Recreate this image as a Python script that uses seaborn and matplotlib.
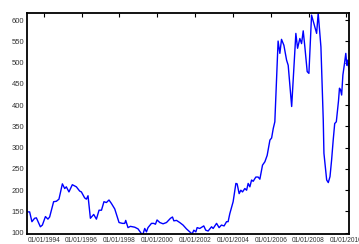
import numpy as np
import pandas as pd
import matplotlib
matplotlib.use("Agg")
import matplotlib.pyplot as plt
import matplotlib.dates as mdates
import seaborn as sns

# price series (irregular sample dates)
dates = [
    "1993-02-12", "1993-04-04", "1993-05-18", "1993-07-09", "1993-08-12", "1993-10-28", "1993-12-06",
    "1994-02-03", "1994-03-23", "1994-04-25", "1994-07-11", "1994-09-02", "1994-10-22", "1994-12-27",
    "1995-02-10", "1995-03-13", "1995-05-03", "1995-07-07", "1995-09-23", "1995-11-26", "1995-12-29",
    "1996-03-01", "1996-04-04", "1996-05-05", "1996-06-20", "1996-08-23", "1996-10-14", "1996-12-04",
    "1997-01-20", "1997-03-09", "1997-04-25", "1997-06-14", "1997-07-30", "1997-10-03", "1997-11-05",
    "1997-12-25", "1998-02-28", "1998-04-14", "1998-05-03", "1998-06-16", "1998-08-02", "1998-10-24",
    "1998-12-27", "1999-03-01", "1999-04-02", "1999-05-05", "1999-06-07", "1999-07-07", "1999-09-12",
    "1999-10-26", "1999-11-28", "1999-12-29", "2000-02-20", "2000-04-23", "2000-06-28", "2000-09-14",
    "2000-10-22", "2000-11-17", "2001-01-08", "2001-03-11", "2001-05-14", "2001-07-19", "2001-09-22",
    "2001-11-05", "2001-12-08", "2002-01-16", "2002-02-10", "2002-04-02", "2002-06-18", "2002-07-26",
    "2002-09-10", "2002-11-15", "2002-12-16", "2003-02-20", "2003-04-10", "2003-05-25", "2003-07-15",
    "2003-09-01", "2003-10-01", "2003-11-03", "2004-01-06", "2004-02-28", "2004-03-23", "2004-05-01",
    "2004-06-03", "2004-07-05", "2004-08-19", "2004-09-22", "2004-10-22", "2004-11-24", "2004-12-27",
    "2005-01-27", "2005-03-19", "2005-05-03", "2005-06-05", "2005-07-26", "2005-09-10", "2005-10-24",
    "2005-12-16", "2006-01-18", "2006-02-18", "2006-03-21", "2006-05-23", "2006-06-26", "2006-07-28",
    "2006-09-12", "2006-11-03", "2006-12-04", "2007-02-09", "2007-05-01", "2007-06-03", "2007-07-17",
    "2007-08-19", "2007-09-20", "2007-10-22", "2007-12-06", "2008-01-08", "2008-02-28", "2008-05-03",
    "2008-06-05", "2008-07-05", "2008-08-27", "2008-10-11", "2008-10-24", "2008-12-16", "2009-01-16",
    "2009-02-18", "2009-03-21", "2009-04-21", "2009-05-20", "2009-06-20", "2009-07-10", "2009-08-01",
    "2009-08-20", "2009-09-10", "2009-10-01", "2009-10-25", "2009-11-25", "2009-12-20", "2010-01-10",
    "2010-01-25", "2010-02-20",
]
prices = [
    149, 149, 126, 134, 135, 114, 118,
    138, 132, 137, 173, 174, 179, 215,
    204, 208, 196, 213, 208, 198, 196,
    182, 179, 187, 134, 143, 132, 153,
    153, 173, 171, 177, 169, 156, 143,
    124, 122, 122, 129, 112, 115, 113,
    109, 98, 97, 110, 102, 112, 122,
    122, 120, 130, 124, 121, 124, 134,
    137, 128, 129, 124, 118, 109, 102,
    97, 106, 102, 112, 110, 116, 106,
    104, 114, 110, 122, 112, 118, 116,
    126, 126, 145, 173, 216, 215, 192,
    200, 196, 204, 200, 216, 208, 224,
    221, 231, 231, 226, 259, 267, 282,
    318, 323, 345, 361, 551, 522, 555,
    541, 506, 494, 397, 569, 534, 557,
    545, 575, 537, 479, 475, 612, 584,
    569, 617, 537, 365, 287, 224, 218,
    232, 271, 318, 357, 361, 385, 410,
    440, 436, 424, 471, 498, 522, 494,
    506, 483,
]
yticks = list(range(100, 601, 50))
xtick_years = list(range(1994, 2011, 2))

df = pd.DataFrame({"date": pd.to_datetime(dates), "price": prices})

sns.set_style("white")
plt.rcParams["font.family"] = ["Liberation Sans", "DejaVu Sans"]
plt.rcParams["xtick.direction"] = "in"
plt.rcParams["ytick.direction"] = "in"

fig = plt.figure(figsize=(3.59, 2.44), dpi=100)
ax = fig.add_axes([27 / 359, 10 / 244, 322 / 359, 221 / 244])
sns.lineplot(data=df, x="date", y="price", color="#0000ff", linewidth=1.0, ax=ax)

ax.set_xlim(df["date"].min(), df["date"].max())
ax.set_ylim(min(prices), max(prices))
ax.set_yticks(yticks)
ax.set_xticks(pd.to_datetime([f"{y}-01-01" for y in xtick_years]))
ax.xaxis.set_major_formatter(mdates.DateFormatter("%m/%d/%Y"))
ax.set_xlabel("")
ax.set_ylabel("")

for s in ax.spines.values():
    s.set_visible(True)
    s.set_color("black")
    s.set_linewidth(1.3)
ax.tick_params(axis="both", which="major", labelcolor="#333333",
               length=3, width=0.8, color="black", top=True, right=True,
               labeltop=False, labelright=False, pad=2)
ax.tick_params(axis="y", labelsize=5.5)
ax.tick_params(axis="x", labelsize=4.8, pad=2.5)

fig.savefig("out.png", dpi=100)
